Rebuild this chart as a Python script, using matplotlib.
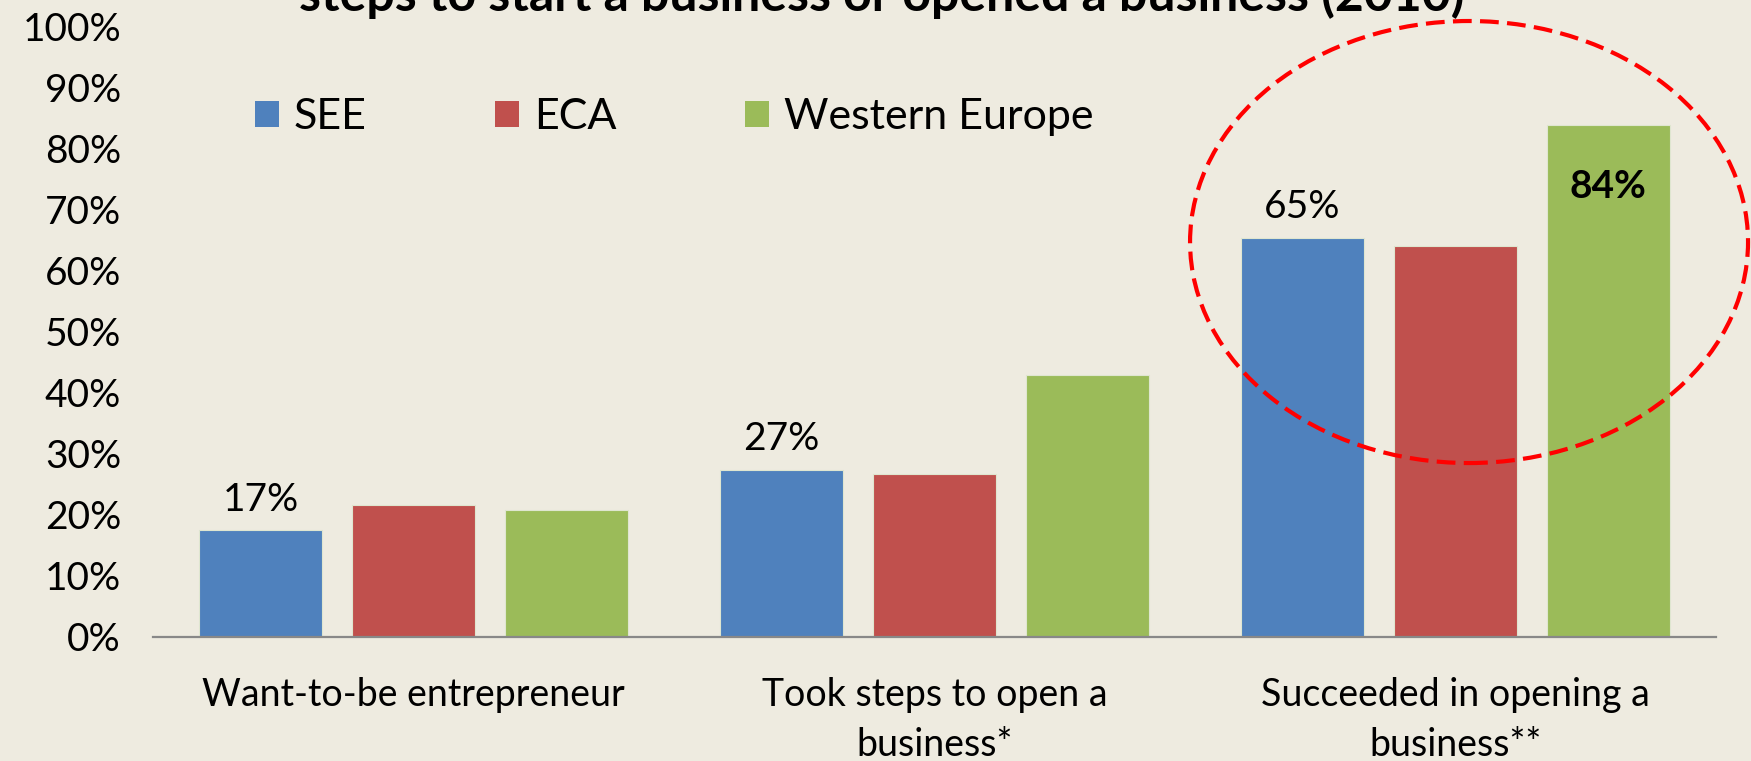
import matplotlib
matplotlib.use("Agg")
import matplotlib.pyplot as plt
from matplotlib.patches import Ellipse, Patch
import numpy as np

categories = ["Want-to-be entrepreneur", "Took steps to open a\nbusiness*", "Succeeded in opening a\nbusiness**"]
series_names = ["SEE", "ECA", "Western Europe"]
see = [0.174, 0.273, 0.654]
eca = [0.216, 0.267, 0.641]
weu = [0.207, 0.429, 0.839]
colors = ["#4F81BD", "#C0504D", "#9BBB59"]
yticks = np.arange(0, 1.01, 0.1)
title = "steps to start a business or opened a business (2010)"

bg = "#EEEBE0"
plt.rcParams['font.family'] = ['Lato', 'DejaVu Sans']

fig = plt.figure(figsize=(17.51, 7.61), dpi=100, facecolor=bg)
ax = fig.add_axes([153/1751, 1-636.5/761, (1716-153)/1751, (636.5-26.8)/761])
ax.set_facecolor(bg)

x = np.arange(len(categories))
width = 0.236
offset = 0.2935
series = [see, eca, weu]
for i, (vals, c) in enumerate(zip(series, colors)):
    ax.bar(x + (i-1)*offset, vals, width, color=c, edgecolor="#dfe6d0", linewidth=0.8, zorder=2)

# data labels
for j in range(3):
    ax.annotate(f"{round(see[j]*100):.0f}%", (x[j]-offset, see[j]), xytext=(0, 22),
                textcoords="offset points", ha="center", va="center", fontsize=28)
ax.annotate(f"{round(weu[2]*100):.0f}%", (x[2]+offset, weu[2]), xytext=(0, -44),
            textcoords="offset points", ha="center", va="center", fontsize=28, fontweight="bold")

ax.set_xlim(-0.5, 2.5)
ax.set_ylim(0, 1.0)
ax.set_yticks(yticks)
ax.set_yticklabels([f"{int(round(t*100))}%" for t in yticks], fontsize=28)
ax.set_xticks(x)
ax.set_xticklabels(categories, fontsize=27, linespacing=1.5)
ax.tick_params(axis="y", length=0, pad=23)
ax.tick_params(axis="x", length=0, pad=29)
for s in ["top", "right", "left"]:
    ax.spines[s].set_visible(False)
ax.spines["bottom"].set_color("#888888")
ax.spines["bottom"].set_linewidth(1.6)
ax.spines["bottom"].set_zorder(3)

# legend
handles = [Patch(facecolor=c, edgecolor="none") for c in colors]
ax.legend(handles, series_names, loc="center left", bbox_to_anchor=(255/1751, 1-117/761),
          bbox_transform=fig.transFigure, frameon=False, ncol=3, fontsize=31,
          handlelength=0.56, handleheight=0.56, handletextpad=0.33, columnspacing=3.0,
          borderpad=0, borderaxespad=0)

# highlight ellipse
ell = Ellipse((2.026, 0.647), 1.071, 0.725, fill=False, edgecolor="#FF0000",
              linewidth=3, linestyle=(0, (4.5, 2)), clip_on=False, zorder=4)
ax.add_patch(ell)

fig.text(882/1751, 1-11/761, title, ha="center", va="baseline", fontsize=36, fontweight="bold")

fig.savefig("out.png", dpi=100, facecolor=bg)
